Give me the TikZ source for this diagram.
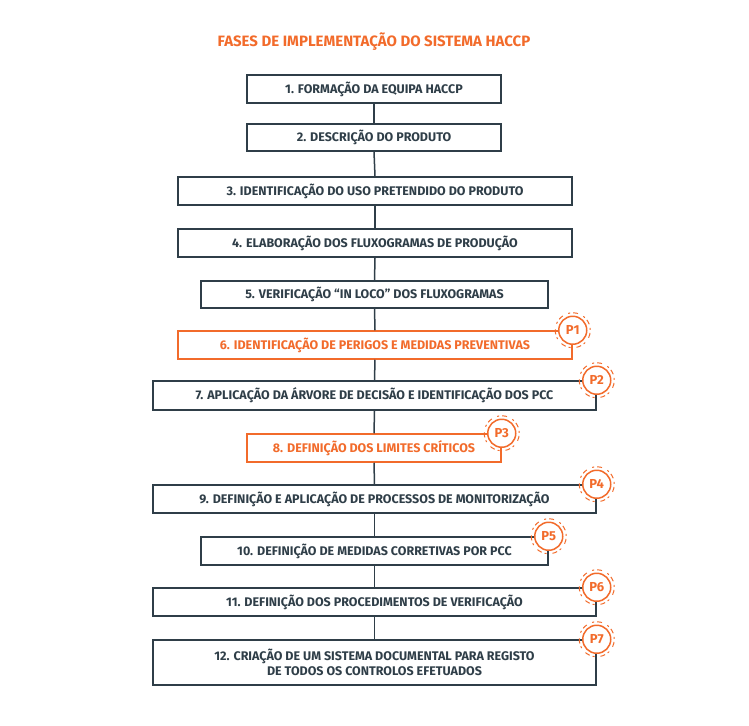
\documentclass[tikz,border=0pt]{standalone}
\usepackage{fontspec}
\setmainfont{Fira Sans}
\usetikzlibrary{positioning}
\definecolor{slate}{HTML}{2F3E48}
\definecolor{haccp}{HTML}{F26B2B}
\tikzset{
  fase/.style={draw=slate, line width=1.5pt, fill=white, inner sep=0pt,
    font=\fontsize{12.5}{15.5}\selectfont\bfseries, text=slate, align=center},
  critica/.style={fase, draw=haccp, text=haccp},
  elo/.style={draw=slate, line width=1.5pt},
  selo/.style={circle, draw=haccp, line width=1.5pt, fill=white, minimum size=28pt,
    inner sep=0pt, text=haccp, font=\fontsize{13}{15}\selectfont\bfseries},
  anel/.style={draw=haccp, line width=1pt, dash pattern=on 5pt off 3pt on 2pt off 6pt}
}
\newcommand{\marca}[2]{%
  \node[selo] (p#2) at (#1.north east) {P#2};
  \draw[anel, rotate around={20:(p#2)}] (p#2) circle (17.5pt);}
\begin{document}
\begin{tikzpicture}[x=1pt,y=-1pt]
  \useasboundingbox (0,0) rectangle (749,725);
  \node[font=\fontsize{15}{18}\selectfont\bfseries, text=haccp] (titulo) at (374,42)
    {FASES DE IMPLEMENTAÇÃO DO SISTEMA HACCP};

  \node[fase, minimum width=254pt, minimum height=28pt] (f1) at (374,89) {1. FORMAÇÃO DA EQUIPA HACCP};
  \node[fase, minimum width=254pt, minimum height=27pt] (f2) at (374,137.5) {2. DESCRIÇÃO DO PRODUTO};
  \node[fase, minimum width=394pt, minimum height=28pt] (f3) at (375,191) {3. IDENTIFICAÇÃO DO USO PRETENDIDO DO PRODUTO};
  \node[fase, minimum width=394pt, minimum height=28pt] (f4) at (375,243) {4. ELABORAÇÃO DOS FLUXOGRAMAS DE PRODUÇÃO};
  \node[fase, minimum width=347pt, minimum height=27pt] (f5) at (374.5,294.5) {5. VERIFICAÇÃO “IN LOCO” DOS FLUXOGRAMAS};
  \node[critica, minimum width=394pt, minimum height=28pt] (f6) at (375,345) {6. IDENTIFICAÇÃO DE PERIGOS E MEDIDAS PREVENTIVAS};
  \node[fase, minimum width=443pt, minimum height=29pt] (f7) at (374.5,395.5) {7. APLICAÇÃO DA ÁRVORE DE DECISÃO E IDENTIFICAÇÃO DOS PCC};
  \node[critica, minimum width=254pt, minimum height=28pt] (f8) at (374,448) {8. DEFINIÇÃO DOS LIMITES CRÍTICOS};
  \node[fase, minimum width=443pt, minimum height=28pt] (f9) at (374.5,499) {9. DEFINIÇÃO E APLICAÇÃO DE PROCESSOS DE MONITORIZAÇÃO};
  \node[fase, minimum width=347pt, minimum height=28pt] (f10) at (374.5,551) {10. DEFINIÇÃO DE MEDIDAS CORRETIVAS POR PCC};
  \node[fase, minimum width=443pt, minimum height=28pt] (f11) at (374.5,602) {11. DEFINIÇÃO DOS PROCEDIMENTOS DE VERIFICAÇÃO};
  \node[fase, minimum width=443pt, minimum height=45pt] (f12) at (374.5,662.5) {12. CRIAÇÃO DE UM SISTEMA DOCUMENTAL PARA REGISTO\\DE TODOS OS CONTROLOS EFETUADOS};

  \foreach \a/\b in {1/2,2/3,3/4,4/5,5/6,6/7,7/8,8/9,9/10,10/11,11/12}
    \draw[elo] (f\a.south) -- (f\b.north);

  \marca{f6}{1}
  \marca{f7}{2}
  \marca{f8}{3}
  \marca{f9}{4}
  \marca{f10}{5}
  \marca{f11}{6}
  \marca{f12}{7}
\end{tikzpicture}
\end{document}
